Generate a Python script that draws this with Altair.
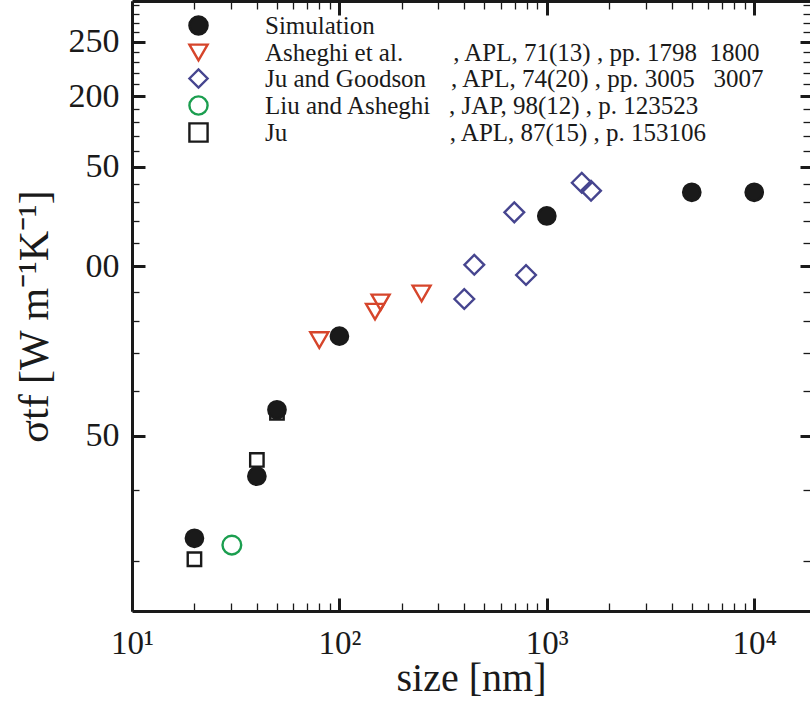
import altair as alt
import pandas as pd

NB = "\u00a0"

# ---- data ----
series = [
    "Simulation",
    "Asheghi et al." + NB * 8 + ", APL, 71(13) , pp. 1798" + NB * 2 + "1800",
    "Ju and Goodson" + NB * 4 + ", APL, 74(20) , pp. 3005" + NB * 3 + "3007",
    "Liu and Asheghi" + NB * 3 + ", JAP, 98(12) , p. 123523",
    "Ju" + NB * 26 + ", APL, 87(15) , p. 153106",
]

sim_x = [20, 40, 50, 100, 1000, 5000, 10000]
sim_y = [32.9, 42.4, 55.6, 75.1, 122.7, 135.1, 135.1]

ash_x = [80, 148.5, 158, 249]
ash_y = [73.9, 83.0, 86.2, 89.4]

jg_x = [400, 447, 794, 697, 1474, 1634]
jg_y = [87.4, 100.5, 96.4, 124.5, 140.5, 136.0]

liu_x = [30.3]
liu_y = [32.0]

ju_x = [20, 40, 50]
ju_y = [30.2, 45.3, 54.9]

x_major = [10, 100, 1000, 10000]
x_major_labels = ["10\u00b9", "10\u00b2", "10\u00b3", "10\u2074"]
x_minor = [20, 30, 40, 50, 60, 70, 80, 90,
           200, 300, 400, 500, 600, 700, 800, 900,
           2000, 3000, 4000, 5000, 6000, 7000, 8000, 9000]

y_major = [50, 100, 150, 200, 250]
y_major_labels = ["50", "00", "50", "200", "250"]
y_minor = [30, 40, 60, 70, 80, 90, 110, 120, 130, 140, 160, 170, 180, 190,
           210, 220, 230, 240, 260, 270, 280, 290]

# ---- styles ----
stroke_colors = ["#1a1a1a", "#d6452b", "#46458f", "#1b9e4f", "#1a1a1a"]
fill_colors = ["#1a1a1a", "transparent", "transparent", "transparent", "transparent"]
shapes = ["circle", "triangle-down", "diamond", "circle", "square"]
marker_sizes = [300, 324, 388, 350, 180]

W, H = 678, 610
FONT = "Liberation Serif"

xscale = alt.Scale(type="log", domain=[10, 18578], nice=False, zero=False)
yscale = alt.Scale(type="log", domain=[24.45, 295.07], nice=False, zero=False)


def label_expr(vals, labels):
    expr = "''"
    for v, l in reversed(list(zip(vals, labels))):
        expr = f"datum.value == {v} ? '{l}' : {expr}"
    return expr


x_label_axis = alt.Axis(
    orient="bottom", values=x_major, labelExpr=label_expr(x_major, x_major_labels),
    ticks=False, tickSize=0, domain=True, domainWidth=3, labelFontSize=33,
    labelPadding=42, labelBaseline="alphabetic", labelFlush=False, labelOverlap=False,
    title="size [nm]", titleFontSize=40, titleY=79, titleBaseline="alphabetic",
)
y_label_axis = alt.Axis(
    orient="left", values=y_major, labelExpr=label_expr(y_major, y_major_labels),
    ticks=False, tickSize=0, domain=True, domainWidth=3, labelFontSize=34,
    labelPadding=13, labelFlush=False, labelOverlap=False,
    title="\u03c3tf [W m\u207b\u00b9K\u207b\u00b9]", titleFontSize=42,
    titleX=-85, titleY=315, titleBaseline="alphabetic", titleAngle=270,
)

leg = alt.Legend(
    title=None, orient="none", legendX=54, legendY=12, labelFont=FONT,
    labelFontSize=25, labelLimit=0, symbolSize=330, symbolStrokeWidth=2.4,
    rowPadding=-2, labelOffset=54, padding=0, labelColor="#1a1a1a",
)

layers = []

# tick-only axis layers (ticks pointing into the plot on all four sides)
tick_axes = [
    (dict(orient="top", offset=-H, values=x_major, tickSize=13, tickWidth=3),
     dict(orient="right", offset=-W, values=y_major, tickSize=13, tickWidth=3)),
    (dict(orient="top", offset=-H, values=x_minor, tickSize=8, tickWidth=1.3),
     dict(orient="right", offset=-W, values=y_minor, tickSize=7, tickWidth=1.3)),
    (dict(orient="bottom", offset=-H, values=x_major, tickSize=14, tickWidth=3,
          domain=True, domainWidth=3),
     dict(orient="left", offset=-W, values=y_major, tickSize=10, tickWidth=3)),
    (dict(orient="bottom", offset=-H, values=x_minor, tickSize=8, tickWidth=1.3),
     dict(orient="left", offset=-W, values=y_minor, tickSize=7, tickWidth=1.3)),
]

base_df = pd.DataFrame({"x": sim_x, "y": sim_y})
for xa, ya in tick_axes:
    xa = {"domain": False, "labels": False, "title": "", **xa}
    ya = {"domain": False, "labels": False, "title": "", **ya}
    layers.append(
        alt.Chart(base_df).mark_point(opacity=0).encode(
            x=alt.X("x:Q", scale=xscale, axis=alt.Axis(**xa)),
            y=alt.Y("y:Q", scale=yscale, axis=alt.Axis(**ya)),
        )
    )

# data layers (Simulation drawn last, on top)
data_sets = [
    (1, ash_x, ash_y),
    (2, jg_x, jg_y),
    (3, liu_x, liu_y),
    (4, ju_x, ju_y),
    (0, sim_x, sim_y),
]
for k, (i, xs, ys) in enumerate(data_sets):
    df = pd.DataFrame({"x": xs, "y": ys, "series": series[i]})
    first = k == 0
    layers.append(
        alt.Chart(df).mark_point(filled=False, size=marker_sizes[i], strokeWidth=2.4, opacity=1).encode(
            x=alt.X("x:Q", scale=xscale, axis=x_label_axis if first else None),
            y=alt.Y("y:Q", scale=yscale, axis=y_label_axis if first else None),
            color=alt.Color("series:N", scale=alt.Scale(domain=series, range=stroke_colors), legend=leg),
            shape=alt.Shape("series:N", scale=alt.Scale(domain=series, range=shapes), legend=leg),
            fill=alt.Fill("series:N", scale=alt.Scale(domain=series, range=fill_colors), legend=leg),
        )
    )

chart = (
    alt.layer(*layers)
    .resolve_axis(x="independent", y="independent")
    .properties(
        width=W, height=H,
        autosize=alt.AutoSizeParams(type="none"),
        padding={"left": 132, "top": 1, "right": 0, "bottom": 93},
    )
    .configure_view(strokeWidth=0)
    .configure_axis(
        grid=False, domainColor="#1a1a1a", tickColor="#1a1a1a", labelColor="#1a1a1a",
        titleColor="#1a1a1a", labelFont=FONT, titleFont=FONT, titleFontWeight="normal",
    )
)

chart.save("out.html", embed_options={"renderer": "svg", "actions": False})
